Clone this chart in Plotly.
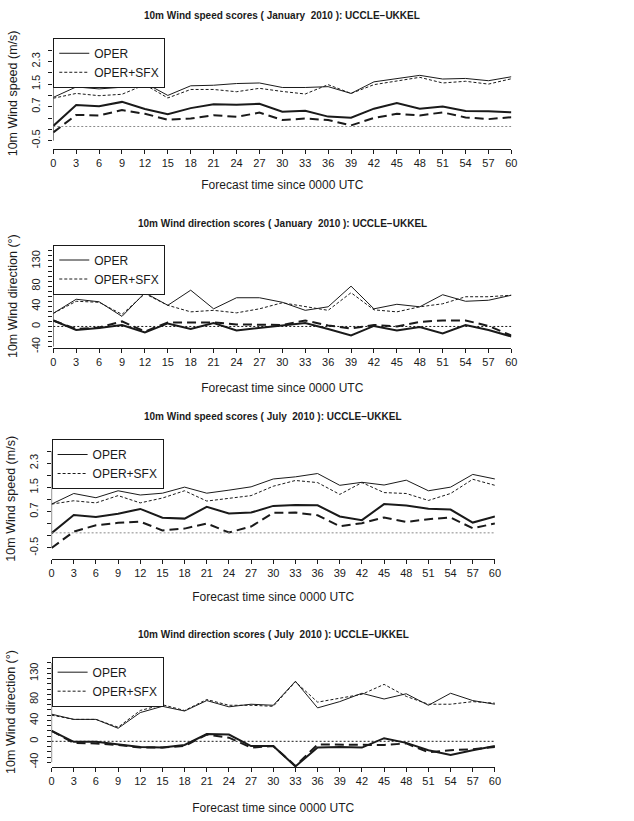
import plotly.graph_objects as go

# Forecast lead times (hours)
hours = list(range(0, 61, 3))

# January 2010 - 10m wind speed (m/s)
jan_spd_rmse_oper = [1.03, 1.40, 1.33, 1.39, 1.54, 1.10, 1.44, 1.46, 1.52, 1.54, 1.38,
                     1.38, 1.41, 1.17, 1.58, 1.69, 1.81, 1.68, 1.70, 1.62, 1.76]
jan_spd_rmse_sfx = [1.00, 1.17, 1.09, 1.14, 1.48, 1.01, 1.31, 1.31, 1.23, 1.35, 1.24,
                    1.15, 1.48, 1.17, 1.48, 1.60, 1.74, 1.54, 1.60, 1.50, 1.69]
jan_spd_bias_oper = [0.02, 0.76, 0.72, 0.87, 0.62, 0.43, 0.65, 0.79, 0.77, 0.80, 0.52,
                     0.56, 0.35, 0.31, 0.63, 0.83, 0.63, 0.71, 0.55, 0.54, 0.50]
jan_spd_bias_sfx = [-0.21, 0.41, 0.39, 0.58, 0.45, 0.24, 0.28, 0.40, 0.34, 0.49, 0.23,
                    0.28, 0.23, 0.04, 0.30, 0.45, 0.39, 0.50, 0.32, 0.26, 0.33]

# January 2010 - 10m wind direction (degrees)
jan_dir_rmse_oper = [26, 54, 49, 20, 67, 42, 72, 35, 57, 57, 48,
                     32, 39, 80, 35, 44, 39, 63, 50, 52, 62]
jan_dir_rmse_sfx = [26, 50, 48, 24, 65, 42, 29, 32, 27, 35, 47,
                    39, 32, 67, 33, 29, 39, 45, 59, 59, 62]
jan_dir_bias_oper = [12, -7, -3, 3, -12, 6, -5, 7, -8, -3, 1,
                     7, -5, -18, 1, -8, -1, -14, 3, -7, -20]
jan_dir_bias_sfx = [12, -5, -2, 10, -10, 8, 8, 8, 4, 3, 3,
                    12, 2, -4, 3, 0, 9, 12, 12, 1, -18]

# July 2010 - 10m wind speed (m/s)
jul_spd_rmse_oper = [0.95, 1.30, 1.16, 1.39, 1.25, 1.31, 1.51, 1.31, 1.41, 1.52, 1.78,
                     1.85, 1.96, 1.57, 1.67, 1.58, 1.74, 1.39, 1.51, 1.93, 1.78]
jul_spd_rmse_sfx = [0.95, 1.06, 0.99, 1.23, 0.99, 1.15, 1.39, 1.05, 1.14, 1.23, 1.54,
                    1.73, 1.66, 1.27, 1.66, 1.33, 1.30, 1.07, 1.30, 1.77, 1.57]
jul_spd_bias_oper = [-0.01, 0.59, 0.52, 0.63, 0.79, 0.50, 0.47, 0.86, 0.64, 0.67, 0.89,
                     0.92, 0.91, 0.54, 0.42, 0.95, 0.90, 0.80, 0.77, 0.34, 0.54]
jul_spd_bias_sfx = [-0.50, 0.04, 0.25, 0.33, 0.37, 0.08, 0.14, 0.31, 0.01, 0.21, 0.66,
                    0.67, 0.58, 0.22, 0.32, 0.51, 0.36, 0.45, 0.51, 0.15, 0.31]

# July 2010 - 10m wind direction (degrees)
jul_dir_rmse_oper = [52, 42, 42, 25, 55, 67, 58, 78, 66, 71, 69,
                     115, 64, 76, 92, 81, 91, 69, 92, 78, 71]
jul_dir_rmse_sfx = [50, 42, 42, 27, 59, 70, 59, 80, 69, 69, 67,
                    114, 75, 83, 90, 109, 86, 71, 71, 76, 73]
jul_dir_bias_oper = [20, -1, -1, -6, -11, -12, -7, 14, 13, -9, -9,
                     -48, -12, -11, -12, 6, -3, -17, -26, -17, -9]
jul_dir_bias_sfx = [20, -3, -4, -7, -12, -12, -9, 13, 7, -12, -9,
                    -47, -6, -6, -6, -7, -4, -21, -17, -15, -11]

# Axis ticks
hour_ticks = hours
spd_tickvals = [-0.5, -0.1, 0.3, 0.7, 1.1, 1.5, 1.9, 2.3, 2.7]
spd_ticktext = ["-0.5", "", "", "0.7", "", "1.5", "", "2.3", ""]
dir_tickvals = list(range(-40, 151, 10))
dir_labels = {-40: "-40", 0: "0", 40: "40", 80: "80", 130: "130"}
dir_ticktext = [dir_labels.get(v, "") for v in dir_tickvals]

W, H = 634, 821
FONT = "Liberation Sans, Arial, sans-serif"
INK = "#1a1a1a"


def px_x(p):
    return p / W


def px_y(p):
    return 1 - p / H


panels = [
    dict(title="10m Wind speed scores ( January  2010 ): UCCLE\u2212UKKEL",
         ytitle="10m Wind speed (m/s)", data=(jan_spd_rmse_oper, jan_spd_rmse_sfx,
                                             jan_spd_bias_oper, jan_spd_bias_sfx),
         xpx=(51, 515.7), ypx=(38, 150), yrange=[-0.80, 3.14],
         tv=spd_tickvals, tt=spd_ticktext, yspan=(-0.5, 2.7), title_y=16,
         xstand=12, zero_color="#8a8a8a", zero_dash="2px,2px"),
    dict(title="10m Wind direction scores ( January  2010 ): UCCLE\u2212UKKEL",
         ytitle="10m Wind direction (\u00b0)", data=(jan_dir_rmse_oper, jan_dir_rmse_sfx,
                                                     jan_dir_bias_oper, jan_dir_bias_sfx),
         xpx=(51, 515.7), ypx=(246, 350), yrange=[-42.5, 162.7],
         tv=dir_tickvals, tt=dir_ticktext, yspan=(-40, 150), title_y=225,
         xstand=16, zero_color=INK, zero_dash="2px,2px"),
    dict(title="10m Wind speed scores ( July  2010 ): UCCLE\u2212UKKEL",
         ytitle="10m Wind speed (m/s)", data=(jul_spd_rmse_oper, jul_spd_rmse_sfx,
                                             jul_spd_bias_oper, jul_spd_bias_sfx),
         xpx=(49.3, 499), ypx=(441.7, 562), yrange=[-0.85, 3.10],
         tv=spd_tickvals, tt=spd_ticktext, yspan=(-0.5, 2.7), title_y=419,
         xstand=14, zero_color="#8a8a8a", zero_dash="2px,2px"),
    dict(title="10m Wind direction scores ( July  2010 ): UCCLE\u2212UKKEL",
         ytitle="10m Wind direction (\u00b0)", data=(jul_dir_rmse_oper, jul_dir_rmse_sfx,
                                                     jul_dir_bias_oper, jul_dir_bias_sfx),
         xpx=(49.3, 499), ypx=(660.7, 772), yrange=[-49.7, 162],
         tv=dir_tickvals, tt=dir_ticktext, yspan=(-40, 150), title_y=638,
         xstand=17, zero_color=INK, zero_dash="2px,2px"),
]

fig = go.Figure()
layout = dict(
    width=W, height=H, margin=dict(l=0, r=0, t=0, b=0),
    paper_bgcolor="white", plot_bgcolor="white",
    font=dict(family=FONT, color=INK, size=12),
    showlegend=True,
)
shapes, annotations = [], []

for i, p in enumerate(panels, start=1):
    xa = "x" if i == 1 else f"x{i}"
    ya = "y" if i == 1 else f"y{i}"
    lg = "legend" if i == 1 else f"legend{i}"
    rmse_oper, rmse_sfx, bias_oper, bias_sfx = p["data"]

    fig.add_trace(go.Scatter(x=hours, y=rmse_oper, mode="lines", name="OPER",
                             line=dict(color=INK, width=1), xaxis=xa, yaxis=ya,
                             legend=lg, showlegend=True))
    fig.add_trace(go.Scatter(x=hours, y=rmse_sfx, mode="lines", name="OPER+SFX",
                             line=dict(color=INK, width=1, dash="3px,2px"),
                             xaxis=xa, yaxis=ya, legend=lg, showlegend=True))
    fig.add_trace(go.Scatter(x=hours, y=bias_oper, mode="lines", name="OPER bias",
                             line=dict(color=INK, width=2), xaxis=xa, yaxis=ya,
                             showlegend=False))
    fig.add_trace(go.Scatter(x=hours, y=bias_sfx, mode="lines", name="OPER+SFX bias",
                             line=dict(color=INK, width=2, dash="9px,5px"),
                             xaxis=xa, yaxis=ya, showlegend=False))

    x0, x1 = p["xpx"]
    ytop, ybot = p["ypx"]
    xkey = "xaxis" if i == 1 else f"xaxis{i}"
    ykey = "yaxis" if i == 1 else f"yaxis{i}"
    layout[xkey] = dict(
        domain=[px_x(x0), px_x(x1)], anchor=ya, range=[0, 60],
        tickmode="array", tickvals=hour_ticks, ticktext=[str(h) for h in hour_ticks],
        ticks="outside", ticklen=4, tickwidth=1, tickcolor=INK,
        showline=True, linecolor=INK, linewidth=1, showgrid=False, zeroline=False,
        tickfont=dict(size=11), tickangle=0,
        title=dict(text="Forecast time since 0000 UTC", font=dict(size=12),
                   standoff=p["xstand"]),
    )
    layout[ykey] = dict(
        domain=[px_y(ybot), px_y(ytop)], anchor=xa, range=p["yrange"],
        tickmode="array", tickvals=p["tv"], ticktext=p["tt"],
        ticks="outside", ticklen=4, tickwidth=1, tickcolor=INK,
        showline=False, showgrid=False, zeroline=False,
        tickfont=dict(size=11), tickangle=-90, ticklabelstandoff=4,
        title=dict(text=p["ytitle"], font=dict(size=12.5), standoff=9),
    )
    # y axis line spanning the tick range only
    shapes.append(dict(type="line", xref=xa, yref=ya, x0=0, x1=0,
                       y0=p["yspan"][0], y1=p["yspan"][1],
                       line=dict(color=INK, width=1)))
    # zero reference
    shapes.append(dict(type="line", xref=xa, yref=ya, x0=0, x1=60, y0=0, y1=0,
                       line=dict(color=p["zero_color"], width=1, dash=p["zero_dash"])))
    layout[lg] = dict(
        x=px_x(x0), y=px_y(ytop), xanchor="left", yanchor="top",
        bgcolor="white", bordercolor=INK, borderwidth=1,
        font=dict(size=12, family=FONT, color=INK),
        tracegroupgap=0,
    )
    annotations.append(dict(
        text=f"<b>{p['title']}</b>", xref="paper", yref="paper",
        x=px_x((x0 + x1) / 2), y=px_y(p["title_y"]), xanchor="center", yanchor="middle",
        showarrow=False, font=dict(size=10, family=FONT, color=INK),
    ))

layout["shapes"] = shapes
layout["annotations"] = annotations
fig.update_layout(**layout)
fig.write_html("out.html")
